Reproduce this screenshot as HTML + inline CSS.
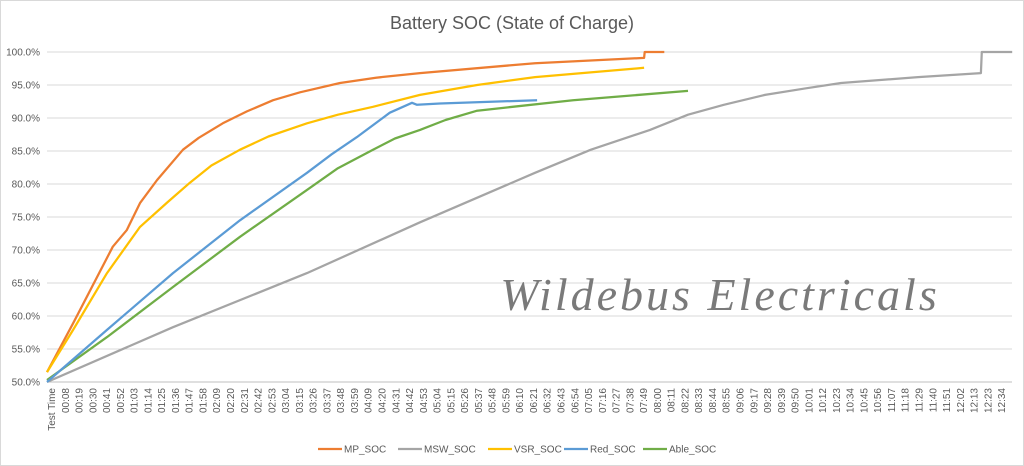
<!DOCTYPE html>
<html><head><meta charset="utf-8"><style>
body{margin:0;background:#fff;}
svg{display:block;font-family:"Liberation Sans",sans-serif;}
</style></head><body>
<svg id="chart" width="1024" height="466" viewBox="0 0 1024 466">
<rect x="0.5" y="0.5" width="1023" height="465" fill="#fff" stroke="#d9d9d9"/>
<text x="512" y="29" text-anchor="middle" font-size="18" fill="#595959">Battery SOC (State of Charge)</text>
<g id="grid"></g><g id="yaxis"></g><g id="xaxis"></g>
<text x="720" y="310" text-anchor="middle" font-family="'Liberation Serif',serif" font-style="italic" font-size="46" fill="#7a7a7a" letter-spacing="3">Wildebus Electricals</text>
<g id="series"></g><g id="legend"></g>
</svg>
<script>
const yTicks=[50,55,60,65,70,75,80,85,90,95,100];
const xLabels=["Test Time","00:08","00:19","00:30","00:41","00:52","01:03","01:14","01:25","01:36","01:47","01:58","02:09","02:20","02:31","02:42","02:53","03:04","03:15","03:26","03:37","03:48","03:59","04:09","04:20","04:31","04:42","04:53","05:04","05:15","05:26","05:37","05:48","05:59","06:10","06:21","06:32","06:43","06:54","07:05","07:16","07:27","07:38","07:49","08:00","08:11","08:22","08:33","08:44","08:55","09:06","09:17","09:28","09:39","09:50","10:01","10:12","10:23","10:34","10:45","10:56","11:07","11:18","11:29","11:40","11:51","12:02","12:13","12:23","12:34"];
const seriesNames=["MP_SOC","MSW_SOC","VSR_SOC","Red_SOC","Able_SOC"];
const seriesColors=["#ed7d31","#a5a5a5","#ffc000","#5b9bd5","#70ad47"];
const mpT=[0,20.6,52,63,73.5,87,107.5,120,139,158,178.7,200,231.6,260,294.9,385.8,472,472.5,488];
const mpV=[51.5,58.9,70.5,73.0,77.1,80.6,85.2,87.0,89.2,91.0,92.7,93.9,95.3,96.1,96.8,98.3,99.1,100,100];
const mswT=[0,99.6,205.5,294.9,385.8,430,476.7,506.7,535,567.6,600,627.7,688.5,738.3,739,763];
const mswV=[50,58.3,66.5,74.2,81.7,85.2,88.2,90.5,92.0,93.5,94.5,95.3,96.2,96.8,100,100];
const vsrT=[0,20.6,47.4,73.5,95,113,130,152.6,175,205.5,230,257.7,294.9,340,385.8,472];
const vsrV=[51.5,57.9,66.5,73.5,77.2,80.2,82.8,85.2,87.2,89.2,90.5,91.7,93.5,95.0,96.2,97.6];
const redT=[0,47.4,99.6,152.6,205.5,225,245,271,288.5,292.5,310.7,387.4];
const redV=[50,57.9,66.5,74.5,81.7,84.5,87.1,90.8,92.3,92.0,92.2,92.7];
const ableT=[0,47.4,99.6,152.6,205.5,230,257.7,275,294.9,315,340,415.8,506.7];
const ableV=[50.3,56.8,64.4,72.0,79.1,82.4,85.2,86.9,88.2,89.7,91.1,92.7,94.1];

const NS="http://www.w3.org/2000/svg";
const X0=47,XR=1012,Y50=382,Y100=52;
function xPos(t){return X0+t*1.265;}
function yPos(v){return Y50-(v-50)*(Y50-Y100)/50;}
function mk(tag,attrs,parent){const e=document.createElementNS(NS,tag);for(const k in attrs)e.setAttribute(k,attrs[k]);parent.appendChild(e);return e;}
const grid=document.getElementById('grid'),ya=document.getElementById('yaxis'),xa=document.getElementById('xaxis');
yTicks.forEach(v=>{
  const l=mk('line',{x1:X0,x2:XR,y1:yPos(v),y2:yPos(v),stroke:v===50?'#bfbfbf':'#d9d9d9','stroke-width':1},grid);
  
  
  const t=mk('text',{x:40,y:yPos(v)+3.5,'text-anchor':'end','font-size':10,fill:'#595959'},ya);
  t.textContent=v.toFixed(1)+'%';
  
  
});
xLabels.forEach((s,i)=>{
  const x=51.5+i*13.77;
  const t=mk('text',{transform:`translate(${x+3.5},388) rotate(-90)`,'text-anchor':'end','font-size':10,fill:'#595959'},xa);
  t.textContent=s;
  
  
});
const allT=[mpT,mswT,vsrT,redT,ableT],allV=[mpV,mswV,vsrV,redV,ableV];
const sg=document.getElementById('series');
[1,0,2,4,3].forEach(i=>{
  const pts=allT[i].map((t,j)=>xPos(t).toFixed(1)+','+yPos(allV[i][j]).toFixed(1)).join(' ');
  const p=mk('polyline',{points:pts,fill:'none',stroke:seriesColors[i],'stroke-width':2.25,'stroke-linejoin':'round'},sg);
  
  
});
const lg=document.getElementById('legend');
const lx=[318,398,488,564,643];
seriesNames.forEach((n,i)=>{
  const g=mk('g',{},lg);
  
  
  mk('line',{x1:lx[i],x2:lx[i]+24,y1:449,y2:449,stroke:seriesColors[i],'stroke-width':2.25},g);
  const t=mk('text',{x:lx[i]+26,y:452.5,'font-size':10,fill:'#595959'},g);
  t.textContent=n;
});
</script>
</body></html>
